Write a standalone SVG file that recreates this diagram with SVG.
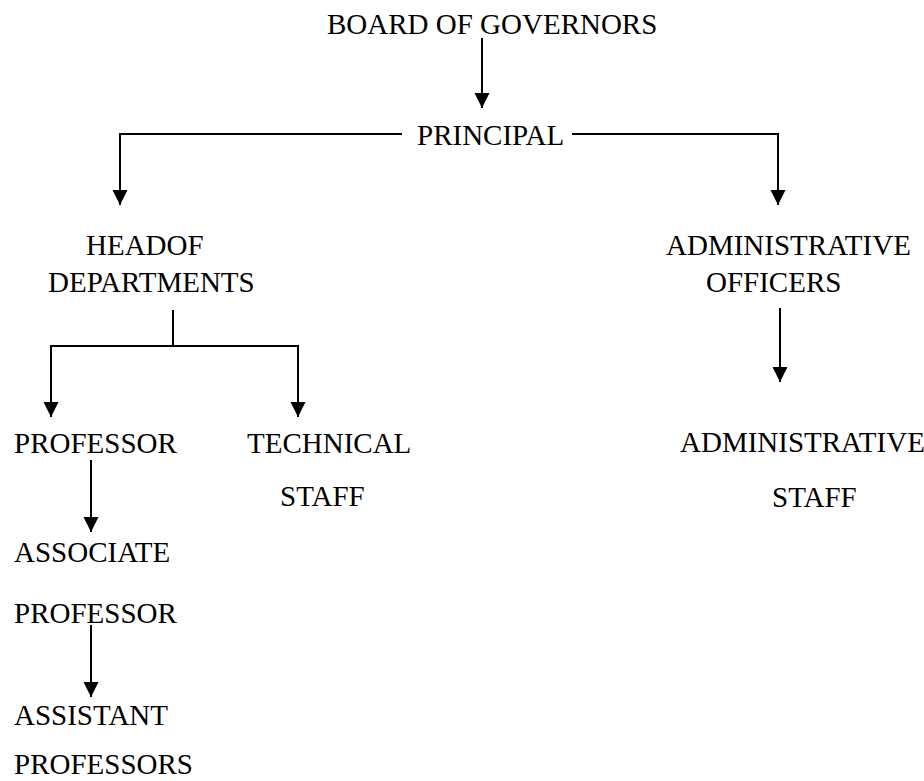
<svg xmlns="http://www.w3.org/2000/svg" width="924" height="781" viewBox="0 0 924 781">
<defs>
<marker id="ah" markerUnits="userSpaceOnUse" markerWidth="16" markerHeight="16" viewBox="0 0 16 16" refX="15" refY="8" orient="auto">
<path d="M0,0.5 L15,8 L0,15.5 Z" fill="#000"/>
</marker>
<style>
text{font-family:"Liberation Serif","Times New Roman",serif;font-size:29px;fill:#000}
.c{fill:none;stroke:#000;stroke-width:2}
.a{marker-end:url(#ah)}
</style>
</defs>
<rect width="924" height="781" fill="#fff"/>
<g id="connectors">
<path class="c a" d="M482,38 V108"/>
<path class="c a" d="M402,134 H120 V205"/>
<path class="c a" d="M572,134 H778 V205"/>
<path class="c" d="M173,310 V346"/>
<path class="c a" d="M173,346 H51 V417"/>
<path class="c a" d="M173,346 H298 V417"/>
<path class="c a" d="M780,308 V382"/>
<path class="c a" d="M91,460 V532"/>
<path class="c a" d="M91,625 V697"/>
</g>
<g id="board"><text x="327" y="34">BOARD OF GOVERNORS</text></g>
<g id="principal"><text x="417" y="145">PRINCIPAL</text></g>
<g id="hod"><text x="86" y="255">HEADOF</text><text x="48" y="292">DEPARTMENTS</text></g>
<g id="admin-officers"><text x="666" y="255">ADMINISTRATIVE</text><text x="706" y="292">OFFICERS</text></g>
<g id="professor"><text x="14" y="453">PROFESSOR</text></g>
<g id="technical-staff"><text x="247" y="453">TECHNICAL</text><text x="280" y="506">STAFF</text></g>
<g id="admin-staff"><text x="680" y="452">ADMINISTRATIVE</text><text x="772" y="507">STAFF</text></g>
<g id="associate"><text x="14" y="562">ASSOCIATE</text><text x="14" y="623">PROFESSOR</text></g>
<g id="assistant"><text x="14" y="725">ASSISTANT</text><text x="14" y="774">PROFESSORS</text></g>
</svg>
